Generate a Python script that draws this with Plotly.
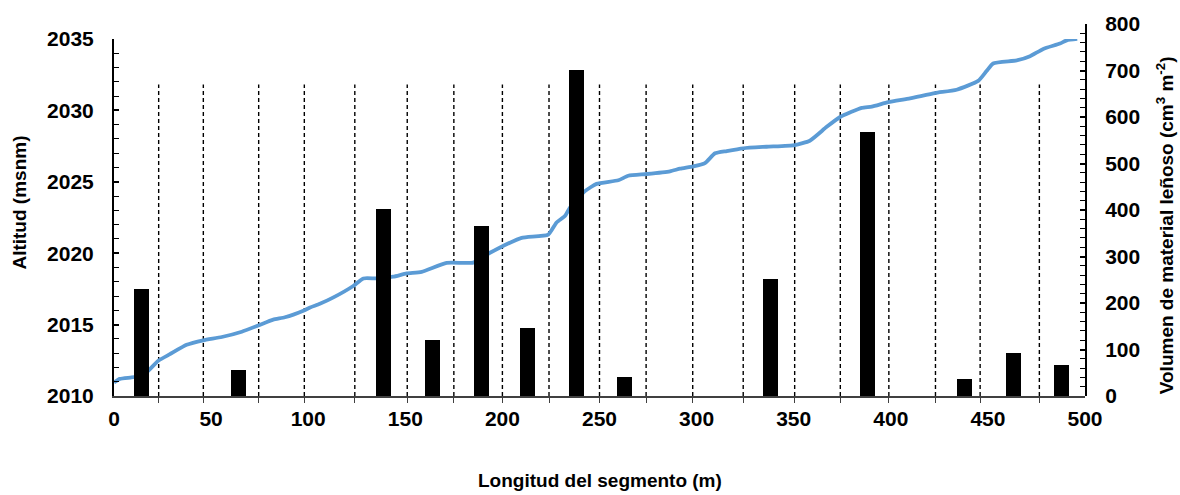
import plotly.graph_objects as go

# Elevation profile along the segment (distance in m, altitude in m a.s.l.)
dist = [0, 3, 9, 13, 16.8, 22.8, 28.8, 37.4, 46, 55.5, 65.8, 74.3, 82, 88, 97.5,
        101, 106, 113, 123.2, 128.4, 135.3, 143.8, 150.7, 158.4, 171.3, 185,
        191.8, 198.8, 209.9, 223.6, 227.9, 232.2, 234.8, 242.5, 248.5, 259.7,
        264.8, 274.3, 286.3, 291.5, 298.3, 304.3, 309.5, 315.5, 324, 336,
        350.6, 358.3, 367, 373.9, 385, 390.2, 398.7, 409.9, 422.8, 433.9, 445,
        449.3, 452.7, 464.8, 471.7, 478.5, 487.1, 490.6, 496]
altitude = [2010.95, 2011.2, 2011.3, 2011.4, 2011.66, 2012.47, 2012.93, 2013.58,
            2013.9, 2014.13, 2014.5, 2014.94, 2015.35, 2015.51, 2015.97, 2016.2,
            2016.45, 2016.9, 2017.7, 2018.23, 2018.23, 2018.35, 2018.58, 2018.69,
            2019.32, 2019.34, 2019.89, 2020.4, 2021.07, 2021.3, 2022.15, 2022.6,
            2023.19, 2024.34, 2024.85, 2025.1, 2025.42, 2025.54, 2025.73, 2025.91,
            2026.07, 2026.3, 2026.99, 2027.15, 2027.34, 2027.45, 2027.57, 2027.87,
            2028.84, 2029.53, 2030.17, 2030.26, 2030.57, 2030.84, 2031.21, 2031.44,
            2032.06, 2032.75, 2033.28, 2033.49, 2033.79, 2034.3, 2034.67, 2034.9,
            2035.0]

# Woody debris volume per sub-segment (cm3 m-2)
bar_pos = [14, 64, 139, 164, 189, 213, 238, 263, 338, 388, 438, 463, 488]
volume = [230, 55, 403, 120, 366, 147, 701, 40, 252, 567, 36, 93, 67]

# Sub-segment boundaries
boundaries = [23, 46, 74.5, 98, 124, 151, 175, 200, 224, 250, 274, 298, 324,
              350.5, 374, 399, 423, 446, 476.5]
boundary_top = 2031.8

x_ticks = [0, 50, 100, 150, 200, 250, 300, 350, 400, 450, 500]

FONT = "Liberation Sans, Arial, sans-serif"

fig = go.Figure()

fig.add_trace(go.Scatter(
    x=dist, y=altitude, mode="lines", xaxis="x", yaxis="y",
    line=dict(color="#5B9BD5", width=3.8, shape="spline", smoothing=0.5),
    showlegend=False, hoverinfo="skip",
))

fig.add_trace(go.Bar(
    x=bar_pos, y=volume, xaxis="x", yaxis="y2", width=7.7,
    marker=dict(color="black", line=dict(width=0)),
    showlegend=False,
))

for b in boundaries:
    fig.add_shape(type="line", xref="x", yref="y", x0=b, x1=b,
                  y0=2010, y1=boundary_top, layer="below",
                  line=dict(color="black", width=1.4, dash="4px,3px"))

tick_font = dict(family=FONT, size=21, color="black", weight="bold")
title_font = dict(family=FONT, size=19, color="black", weight="bold")

fig.update_layout(
    width=1180, height=495,
    margin=dict(l=114, r=95, t=19, b=99),
    paper_bgcolor="white", plot_bgcolor="rgba(0,0,0,0)",
    bargap=0,
    xaxis=dict(
        range=[0, 500], anchor="y", tickmode="array", tickvals=x_ticks,
        ticks="", showline=True, linecolor="#404040", linewidth=1.5,
        showgrid=False, zeroline=False, tickfont=tick_font,
        ticklabelstandoff=3,
        minor=dict(tickmode="array", tickvals=boundaries, ticks="outside",
                   ticklen=5, tickwidth=1.3, tickcolor="#404040", showgrid=False),
    ),
    yaxis=dict(
        range=[2010, 2035], domain=[0, 0.96], anchor="x", side="left",
        tickmode="linear", tick0=2010, dtick=5, ticks="inside", ticklen=5,
        tickwidth=1.5, tickcolor="black", showline=True, linecolor="black",
        linewidth=2, showgrid=False, zeroline=False, tickfont=tick_font,
        ticklabelstandoff=14,
        minor=dict(dtick=1, ticks="inside", ticklen=5, tickwidth=1.3,
                   tickcolor="black", showgrid=False),
    ),
    yaxis2=dict(
        range=[0, 800], domain=[0, 1], anchor="x", side="right",
        tickmode="linear", tick0=0, dtick=100, ticks="inside", ticklen=5,
        tickwidth=1.5, tickcolor="black", showline=True, linecolor="black",
        linewidth=2, showgrid=False, zeroline=False, tickfont=tick_font,
        ticklabelstandoff=14,
        minor=dict(dtick=20, ticks="inside", ticklen=5, tickwidth=1.3,
                   tickcolor="black", showgrid=False),
    ),
    annotations=[
        dict(text="Altitud (msnm)", xref="paper", yref="paper",
             x=-0.0968, y=0.52, textangle=-90, showarrow=False,
             xanchor="center", yanchor="middle", font=title_font),
        dict(text="Volumen de material leñoso (cm<sup>3</sup> m<sup>-2</sup>)",
             xref="paper", yref="paper", x=1.0824, y=0.459, textangle=-90,
             showarrow=False, xanchor="center", yanchor="middle",
             font=title_font),
        dict(text="Longitud del segmento (m)", xref="paper", yref="paper",
             x=0.5005, y=-0.2266, showarrow=False, xanchor="center",
             yanchor="middle", font=title_font),
    ],
)

fig.write_html("out.html")
